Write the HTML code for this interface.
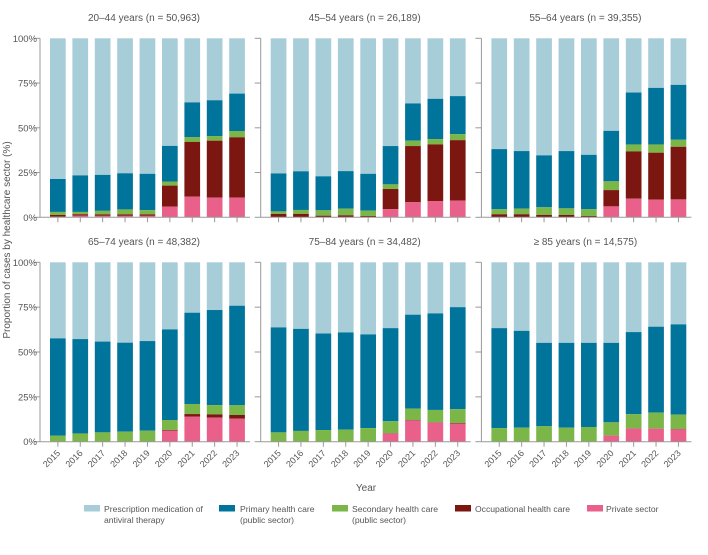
<!DOCTYPE html>
<html><head><meta charset="utf-8">
<style>
body{margin:0;background:#fff;width:708px;height:550px;overflow:hidden;font-family:"Liberation Sans",sans-serif}
svg text{font-family:"Liberation Sans",sans-serif;fill:#555}
</style></head>
<body>
<svg id="chart" width="708" height="550"></svg>
<script>
const years=["2015","2016","2017","2018","2019","2020","2021","2022","2023"];
const panelTitles=["20–44 years (n = 50,963)","45–54 years (n = 26,189)","55–64 years (n = 39,355)","65–74 years (n = 48,382)","75–84 years (n = 34,482)","≥ 85 years (n = 14,575)"];
const yTicks=[0,25,50,75,100];
const yTickLabels=["0%","25%","50%","75%","100%"];
const seriesNames=["Prescription medication of antiviral therapy","Primary health care (public sector)","Secondary health care (public sector)","Occupational health care","Private sector"];
// cumulative tops (%) per panel: private, +occupational, +secondary, +primary
const privateCum=[
[0.3,1,0.8,0.8,0.8,6,11.5,11,11],
[0,0,0,0,0,4.5,8.4,9.1,9.3],
[0,0,0,0,0,6.1,10.4,9.9,10],
[0,0,0,0,0,6.1,13.9,13.4,12.8],
[0,0,0,0,0,4.5,11.9,10.6,10.1],
[0,0,0,0,0,3.4,7.4,7.3,6.9]];
const occupationalCum=[
[1.3,1.7,1.6,1.6,1.6,17.7,42.1,42.8,44.7],
[1.9,1.9,0.9,1.1,0.7,15.8,39.8,40.7,43.1],
[1.7,1.7,1.3,1.3,0.7,15.2,36.8,36.1,39.4],
[0,0,0,0,0,6.5,15.4,15.2,14.9],
[0,0,0,0,0,4.7,12.1,10.8,10.4],
[0,0,0,0,0,3.4,7.4,7.3,7.1]];
const secondaryCum=[
[3,3,3.6,4.4,4,20,44.7,45.4,48.2],
[3.3,4.1,3.9,4.8,3.7,18.4,42.8,43.7,46.5],
[4.5,4.8,5.6,5,4.5,20.1,40.7,40.7,43.3],
[3.3,4.6,5.2,5.6,6.1,12.1,21,20.4,20.3],
[5.2,6,6.5,6.7,7.6,11.4,18.4,17.7,18.1],
[7.6,7.8,8.6,7.8,8.2,10.8,15.3,16.2,15.1]];
const primaryCum=[
[21.4,23.4,23.7,24.6,24.3,39.9,64.2,65.4,69.1],
[24.5,25.7,22.9,25.8,24.3,39.8,63.6,66.2,67.7],
[38.1,37,34.6,37,34.9,48.3,69.7,72.3,74],
[57.6,57.2,55.8,55.2,56.1,62.6,71.9,73.4,75.8],
[63.7,62.9,60.3,60.9,59.8,63.3,70.8,71.5,75],
[63.3,61.8,55.1,55.1,55.1,55.1,61.1,64.1,65.4]];
const colors=["#a7cdd8","#00749b","#7ab648","#7b1610","#e9618a"];

const NS="http://www.w3.org/2000/svg";
const svg=document.getElementById('chart');
function mk(tag,attrs,parent){const e=document.createElementNS(NS,tag);for(const k in attrs)e.setAttribute(k,attrs[k]);(parent||svg).appendChild(e);return e;}
const colPitch=220.7, barPitch=22.4, barW=15.7;
const rowY0=[217.3,441.7], rowY100=[38.3,262.3];
for(let p=0;p<6;p++){
  const col=p%3,row=Math.floor(p/3);
  const ax=40+col*colPitch;
  const y0=rowY0[row],y1=rowY100[row];
  const yS=v=>y0-(y0-y1)*v/100;
  const xS=i=>ax+10+i*barPitch;
  const g=mk('g',{});
  
  
  const t=mk('text',{x:ax+104,y:row?245:21,'text-anchor':'middle','font-size':'10'},g);
  t.textContent=panelTitles[p];
  
  
  for(let i=0;i<years.length;i++){
    const tops=[100,primaryCum[p][i],secondaryCum[p][i],occupationalCum[p][i],privateCum[p][i]];
    for(let s=0;s<5;s++){
      const top=tops[s],bot=s<4?tops[s+1]:0;
      if(top-bot<=0)continue;
      const r=mk('rect',{x:xS(i),y:yS(top),width:barW,height:yS(bot)-yS(top),fill:colors[s]},g);
      
      
    }
    const cx=xS(i)+barW/2;
    mk('line',{x1:cx,x2:cx,y1:y0,y2:y0+5,stroke:'#999','stroke-width':1},g);
    if(row===1){
      const yl=mk('text',{x:cx+3,y:y0+12,'text-anchor':'end','font-size':'9',transform:`rotate(-45 ${cx+3} ${y0+12})`},g);
      yl.textContent=years[i];
      
      
    }
  }
  mk('line',{x1:ax,x2:ax,y1:y1,y2:y0,stroke:'#999','stroke-width':1},g);
  mk('line',{x1:ax,x2:ax+210,y1:y0,y2:y0,stroke:'#999','stroke-width':1},g);
  yTicks.forEach((v,k)=>{
    mk('line',{x1:ax-6,x2:ax,y1:yS(v),y2:yS(v),stroke:'#999','stroke-width':1},g);
    if(col===0){
      const tl=mk('text',{x:ax-3,y:yS(v)+3.5,'text-anchor':'end','font-size':'9.5'},g);
      tl.textContent=yTickLabels[k];
      
      
    }
  });
}
const xt=mk('text',{x:366,y:491,'text-anchor':'middle','font-size':'10'});
xt.textContent='Year';


const yt=mk('text',{x:10,y:240,'text-anchor':'middle','font-size':'10',transform:'rotate(-90 10 240)'});
yt.textContent='Proportion of cases by healthcare sector (%)';


const legX=[[84,104],[219,240],[332,352],[455,475],[587,606]];
const legLines=[["Prescription medication of","antiviral therapy"],["Primary health care","(public sector)"],["Secondary health care","(public sector)"],["Occupational health care"],["Private sector"]];
for(let s=0;s<5;s++){
  const lg=mk('g',{});
  
  
  mk('rect',{x:legX[s][0],y:505,width:16,height:6.5,fill:colors[s]},lg);
  legLines[s].forEach((l,k)=>{
    const tt=mk('text',{x:legX[s][1],y:512+k*11,'font-size':'8.6'},lg);
    tt.textContent=l;
  });
}
</script>
</body></html>
